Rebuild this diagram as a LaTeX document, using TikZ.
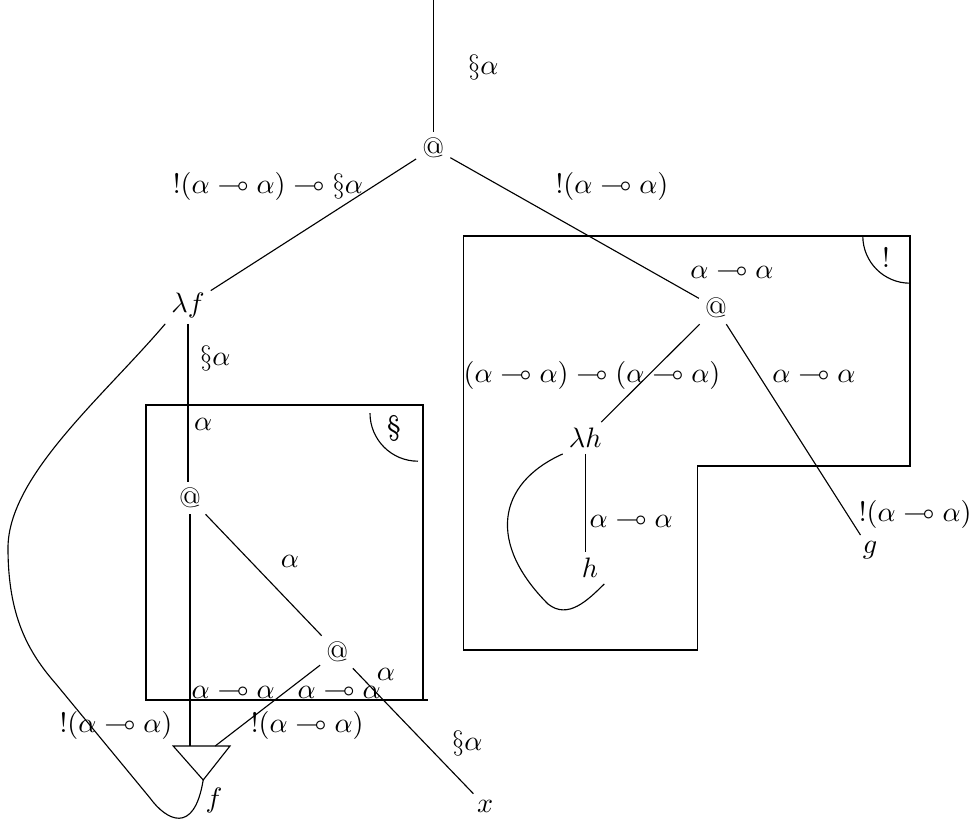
\documentclass[tikz,border=0pt]{standalone}
\usepackage{amsmath, amssymb}
\usepackage{tikz}
\usetikzlibrary{calc}

\begin{document}
\begin{tikzpicture}[
  x=0.5cm, y=0.5cm,
  agent/.style={inner sep=2pt},
  typ/.style={inner sep=1pt},
  boxline/.style={draw, line width=0.5pt}
]
  \useasboundingbox (0,0) rectangle (24.35,-20.675);

  % agents
  \coordinate (top) at (10.83, 0);
  \node[agent] (at0) at (10.83, -3.7) {@};
  \node[agent] (lamf) at (4.7, -7.63) {$\lambda f$};
  \node[agent] (at1) at (17.9, -7.7) {@};
  \node[agent] (lamh) at (14.63, -10.95) {$\lambda h$};
  \node[agent] (h) at (14.75, -14.2) {$h$};
  \node[agent] (g) at (21.75, -13.75) {$g$};
  \node[agent] (at2) at (4.75, -12.45) {@};
  \node[agent] (at3) at (8.43, -16.3) {@};
  \node[agent] (x) at (12.13, -20.15) {$x$};
  \node[agent] (f) at (5.35, -20) {$f$};

  % contraction (triangle)
  \coordinate (trl) at (4.33, -18.65);
  \coordinate (trr) at (5.75, -18.65);
  \coordinate (trb) at (5.08, -19.5);
  \draw (trl) -- (trr) -- (trb) -- cycle;

  % wires
  \draw (top) -- (at0);
  \draw (at0) -- (lamf);
  \draw (at0) -- (at1);
  \draw (at1) -- (lamh);
  \draw (at1) -- (g);
  \draw (lamh.south) -- (lamh.south |- h.north);
  \draw (lamh.south west) .. controls (12.4, -12.1) and (12.2, -13.6) .. (13.7, -15.1)
        .. controls (14.2, -15.5) and (14.7, -15.0) .. (h.south east);
  \draw (lamf.south) -- (lamf.south |- at2.north);
  \draw (at2.south) -- (at2.south |- trl);
  \draw (at2) -- (at3);
  \draw (at3) -- (5.38, -18.65);
  \draw (at3) -- (x);
  \draw (lamf.south west) .. controls (2.6, -9.9) and (0.2, -11.9) .. (0.2, -13.7)
        .. controls (0.2, -15.4) and (0.7, -16.3) .. (1.4, -17.1) -- (3.75, -19.95)
        .. controls (4.15, -20.5) and (4.85, -20.9) .. (trb);

  % boxes
  \draw[boxline] (11.58, -5.9) -- (22.75, -5.9) -- (22.75, -11.65) -- (17.43, -11.65)
        -- (17.43, -16.25) -- (11.58, -16.25) -- cycle;
  \draw (22.75, -5.9) ++(180:1.18) arc (180:270:1.18);
  \node[typ] (bang) at (22.15, -6.43) {!};

  \draw[boxline] (10.58, -17.5) -- (3.65, -17.5) -- (3.65, -10.13) -- (10.58, -10.13) -- (10.58, -17.5) -- (10.7, -17.5);
  \draw (10.45, -10.33) ++(180:1.2) arc (180:270:1.2);
  \node[typ] (para) at (9.85, -10.7) {\S};

  % types
  \node[typ] (t1) at (12.08, -1.68) {$\S\alpha$};
  \node[typ] (t2) at (6.7, -4.65) {$!(\alpha \multimap \alpha) \multimap \S\alpha$};
  \node[typ] (t3) at (15.3, -4.65) {$!(\alpha \multimap \alpha)$};
  \node[typ] (t4) at (18.3, -6.78) {$\alpha \multimap \alpha$};
  \node[typ] (t5) at (14.8, -9.38) {$(\alpha \multimap \alpha) \multimap (\alpha \multimap \alpha)$};
  \node[typ] (t6) at (20.35, -9.38) {$\alpha \multimap \alpha$};
  \node[typ] (t7) at (22.88, -12.85) {$!(\alpha \multimap \alpha)$};
  \node[typ] (t8) at (15.78, -13) {$\alpha \multimap \alpha$};
  \node[typ] (t9) at (5.38, -8.95) {$\S\alpha$};
  \node[typ] (t10) at (5.08, -10.6) {$\alpha$};
  \node[typ] (t11) at (7.25, -14.03) {$\alpha$};
  \node[typ] (t12) at (9.65, -16.85) {$\alpha$};
  \node[typ] (t13) at (5.83, -17.28) {$\alpha \multimap \alpha$};
  \node[typ] (t14) at (8.48, -17.28) {$\alpha \multimap \alpha$};
  \node[typ] (t15) at (2.9, -18.13) {$!(\alpha \multimap \alpha)$};
  \node[typ] (t16) at (7.68, -18.13) {$!(\alpha \multimap \alpha)$};
  \node[typ] (t17) at (11.68, -18.58) {$\S\alpha$};
\end{tikzpicture}
\end{document}
